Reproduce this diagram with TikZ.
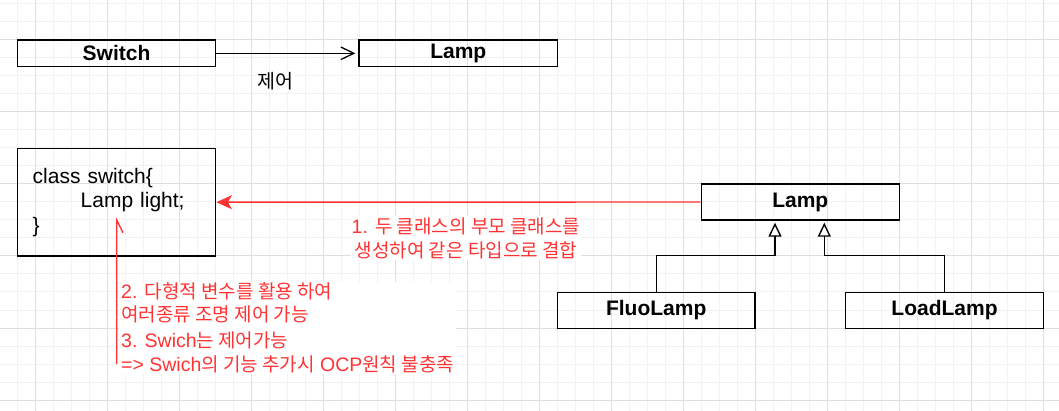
\documentclass[tikz,border=0pt]{standalone}
\usepackage{fontspec}
\setmainfont{Liberation Sans}
\newfontfamily\krfont{Noto Sans CJK KR}
\usetikzlibrary{arrows.meta}
\definecolor{gminor}{HTML}{F2F2F2}
\definecolor{gmajor}{HTML}{DEDEDE}
\definecolor{myred}{HTML}{FF3333}
\newcommand{\kr}[1]{{\krfont\fontsize{19}{24}\selectfont #1}}
\begin{document}
\begin{tikzpicture}[x=1pt,y=-1pt,
  box/.style={draw,line width=1.4pt,inner sep=0pt,font=\bfseries\fontsize{21}{25}\selectfont},
  ctrl/.style={line width=1.3pt,-{Straight Barb[length=13pt,width=12.5pt]},shorten >=3pt},
  redarr/.style={draw=myred,line width=1.4pt,-{Stealth[length=15.5pt,width=14pt,inset=4pt]}},
  inh/.style={line width=1.4pt,-{Triangle[length=14pt,width=13pt,fill=white]}},
  redlbl/.style={text=myred,fill=white,inner sep=1pt,font=\fontsize{19.5}{24}\selectfont}
]
\fill[white] (0,0) rectangle (1059,411);
\useasboundingbox (0,0) rectangle (1059,411);
% grid
\foreach \i in {0,...,59} {\draw[gminor,line width=1pt] ({-1+18*\i},0) -- ({-1+18*\i},411);}
\foreach \i in {0,...,22} {\draw[gminor,line width=1pt] (0,{4+18*\i}) -- (1059,{4+18*\i});}
\foreach \i in {0,...,14} {\draw[gmajor,line width=1pt] ({35+72*\i},0) -- ({35+72*\i},411);}
\foreach \i in {0,...,5} {\draw[gmajor,line width=1pt] (0,{40+72*\i}) -- (1059,{40+72*\i});}

% top row
\node[box,minimum width=198.4pt,minimum height=26.7pt] (sw) at (116.5,53.3) {Switch};
\node[box,minimum width=198.5pt,minimum height=26.7pt] (lamp1) at (458.3,53.3) {Lamp};
\draw[ctrl] (sw.east) -- (lamp1.west);
\node[fill=white,inner sep=1pt,font=\krfont\fontsize{19.5}{22}\selectfont] (ctl) at (275,81.7) {제어};

% class box
\node[draw,line width=1.4pt,minimum width=198.4pt,minimum height=107.7pt,
      text width=167.6pt,inner xsep=15.4pt,inner ysep=0pt,align=left,
      font=\fontsize{21}{24.5}\selectfont] (cls) at (116.5,202.2)
  {class switch\{\\\hspace*{48pt}Lamp light;\\\}};

% hierarchy
\node[box,minimum width=198pt,minimum height=36pt] (lamp2) at (800.3,202) {Lamp};
\node[box,minimum width=197.7pt,minimum height=36pt] (fluo) at (656.2,310.3) {FluoLamp};
\node[box,minimum width=197.6pt,minimum height=36pt] (load) at (944.5,310.3) {LoadLamp};
\coordinate (lampL) at ([xshift=-25.3pt,yshift=-2pt]lamp2.south);
\coordinate (lampR) at ([xshift=24pt,yshift=-2pt]lamp2.south);
\draw[inh] (fluo.north) -- ++(0,-36) -| (lampL);
\draw[inh] (load.north) -- ++(0,-36) -| (lampR);

% red arrow 1
\draw[redarr] (lamp2.west) -- (cls.east);
\node[redlbl,align=center] (lbl1) at (466,238)
  {1. \kr{두 클래스의 부모 클래스를}\\\kr{생성하여 같은 타입으로 결합}};

% red line 2
\node[redlbl,align=left,anchor=north west,inner xsep=2pt] (lbl2) at (119,281.5)
  {2. \kr{다형적 변수를 활용 하여}\\[-1pt]
   \kr{여러종류 조명 제어 가능}\\[2pt]
   3. Swich\kr{는 제어가능}\\[-0.5pt]
   => Swich\kr{의 기능 추가시} OCP\kr{원칙 불충족}};
\coordinate (rtop) at (116.7,220);
\coordinate (rbot) at (116.7,364);
\draw[myred,line width=1.4pt] (rbot) -- (rtop) -- ++(6.3,12.7);
\end{tikzpicture}
\end{document}
